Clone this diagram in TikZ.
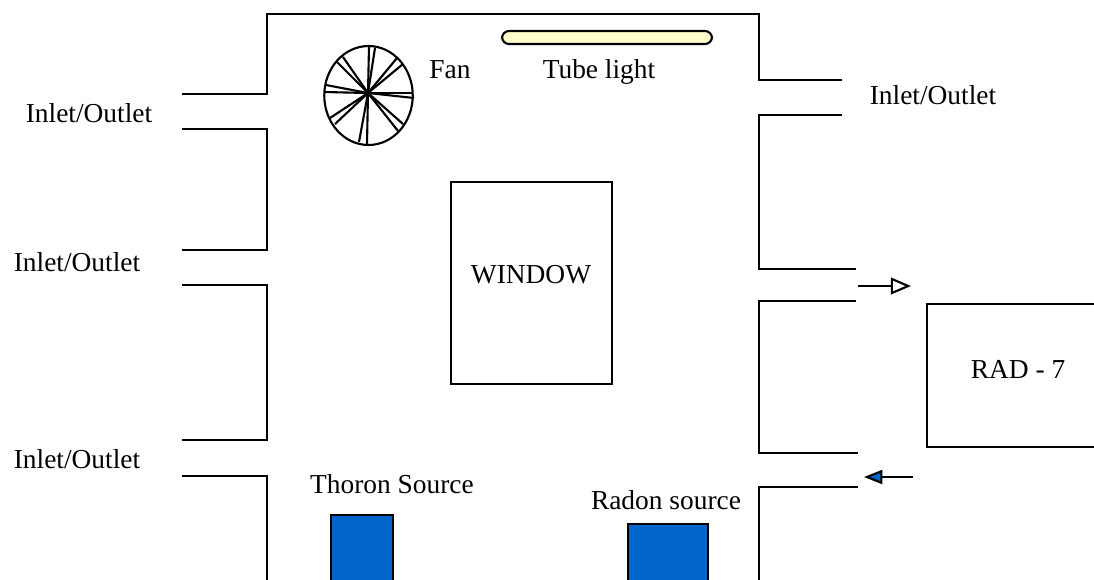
\documentclass[tikz,border=0pt]{standalone}
\usepackage{fontspec}
\setmainfont{Liberation Serif}
\usetikzlibrary{positioning,arrows.meta,shapes.geometric}
\definecolor{srcBlue}{HTML}{0066CC}
\definecolor{tubeYellow}{HTML}{FFFFCC}
\tikzset{
  wall/.style={draw, line width=1.2pt, line join=miter},
  label/.style={inner sep=0pt, font=\fontsize{15.6}{18}\selectfont},
  box/.style={draw, line width=1.2pt, inner sep=0pt, outer sep=0pt, anchor=north west},
  source/.style={box, fill=srcBlue},
  spoke/.style={line width=1.2pt},
  arrowOut/.style={-{Triangle[open, length=11.5pt, width=9.5pt, fill=white, line width=1.2pt]}, line width=1.2pt},
  arrowIn/.style={-{Triangle[length=10.5pt, width=8pt, fill=srcBlue, line width=1.2pt]}, line width=1.2pt}
}

\begin{document}
\begin{tikzpicture}[x=0.02cm, y=-0.02cm]
  \useasboundingbox (0,0) rectangle (1094,579);
  \clip (0,0) rectangle (1094,579);

  % room outline, left side then right side
  \draw[wall] (182,94) -- (267,94) -- (267,14) -- (759,14) -- (759,80) -- (842,80);
  \draw[wall] (182,129) -- (267,129) -- (267,250) -- (182,250);
  \draw[wall] (182,285) -- (267,285) -- (267,440) -- (182,440);
  \draw[wall] (182,476) -- (267,476) -- (267,590);
  \draw[wall] (842,115) -- (759,115) -- (759,269) -- (856,269);
  \draw[wall] (856,301) -- (759,301) -- (759,453) -- (858,453);
  \draw[wall] (858,487) -- (759,487) -- (759,590);

  \node[box, minimum width=3.22cm, minimum height=4.04cm] (window) at (451,182) {};
  \node[label] (windowText) at (531,275) {WINDOW};
  \node[box, minimum width=4cm, minimum height=2.86cm] (rad) at (927,304) {};
  \node[label] (radText) at (1018,369) {RAD - 7};
  \node[source, minimum width=1.24cm, minimum height=2cm] (thoron) at (331,515) {};
  \node[source, minimum width=1.6cm, minimum height=2cm] (radon) at (628,524) {};
  \node[label, above=0.42cm of thoron.north, xshift=0.6cm] (thoronText) {Thoron Source};
  \node[label, above=0.28cm of radon.north, xshift=-0.04cm] (radonText) {Radon source};

  \node[draw, line width=1.2pt, rounded corners=4pt, fill=tubeYellow, inner sep=0pt, minimum width=4.2cm, minimum height=0.26cm] (tube) at (607,37.5) {};
  \node[label] (tubeText) at (599,72) {Tube light};

  % fan
  \node[draw, line width=1.2pt, ellipse, inner sep=0pt, minimum width=1.77cm, minimum height=1.98cm] (fan) at (368.5,95.5) {};
  \coordinate (hub) at (368,93);
  \foreach \px/\py in {369/46,375/48,397/58,403/64,412/93,414/98,403/124,398/131,367/144,359/142,335/124,330/118,324/92,326/85,337/62,343/57}
    \draw[spoke] (hub) -- (\px,\py);
  \node[label] (fanText) at (450,70) {Fan};

  \node[label] (inletA) at (89,113) {Inlet/Outlet};
  \node[label] (inletB) at (77,262) {Inlet/Outlet};
  \node[label] (inletC) at (77,459) {Inlet/Outlet};
  \node[label] (inletD) at (933,95) {Inlet/Outlet};

  \coordinate (outStart) at (858,286);
  \coordinate (outEnd) at (911,286);
  \coordinate (inStart) at (913,477);
  \coordinate (inEnd) at (864,477);
  \draw[arrowOut] (outStart) -- (outEnd);
  \draw[arrowIn] (inStart) -- (inEnd);
\end{tikzpicture}
\end{document}
